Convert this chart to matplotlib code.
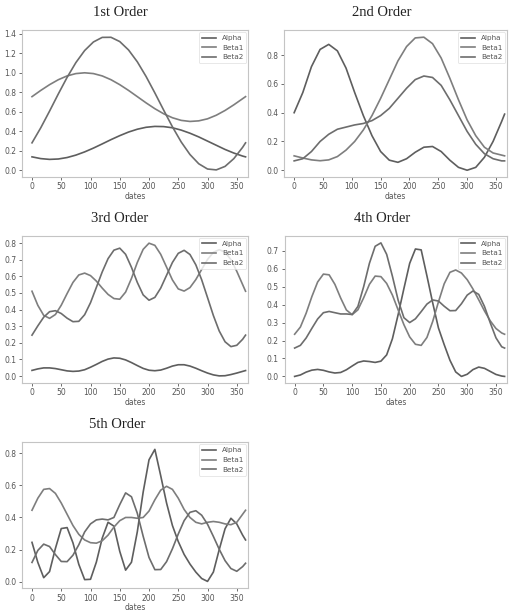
import matplotlib.pyplot as plt

# === Data ===
days15 = [0, 15, 30, 45, 60, 75, 90, 105, 120, 135, 150, 165, 180, 195, 210,
          225, 240, 255, 270, 285, 300, 315, 330, 345, 360, 365]
days10 = list(range(0, 361, 10)) + [365]

# 1st order
o1_alpha = [0.136, 0.118, 0.110, 0.114, 0.129, 0.154, 0.187, 0.226, 0.269, 0.313, 0.354, 0.391, 0.420,
            0.440, 0.449, 0.447, 0.435, 0.411, 0.379, 0.341, 0.298, 0.255, 0.212, 0.175, 0.144, 0.136]
o1_beta1 = [0.755, 0.819, 0.878, 0.929, 0.968, 0.992, 1.000, 0.992, 0.968, 0.929, 0.878, 0.819, 0.755,
            0.691, 0.631, 0.579, 0.538, 0.511, 0.500, 0.506, 0.527, 0.564, 0.613, 0.671, 0.734, 0.755]
o1_beta2 = [0.280, 0.435, 0.606, 0.783, 0.953, 1.105, 1.229, 1.317, 1.364, 1.365, 1.321, 1.235, 1.113,
            0.962, 0.793, 0.617, 0.445, 0.289, 0.160, 0.065, 0.011, 0.002, 0.038, 0.118, 0.234, 0.280]

# 2nd order
o2_alpha = [0.40, 0.54, 0.72, 0.84, 0.875, 0.83, 0.71, 0.54, 0.38, 0.24, 0.13, 0.07, 0.055,
            0.08, 0.125, 0.16, 0.165, 0.13, 0.07, 0.02, 0.0, 0.02, 0.09, 0.20, 0.34, 0.39]
o2_beta1 = [0.10, 0.085, 0.072, 0.066, 0.072, 0.095, 0.14, 0.20, 0.28, 0.38, 0.50, 0.63, 0.76,
            0.86, 0.92, 0.925, 0.88, 0.78, 0.64, 0.49, 0.35, 0.24, 0.16, 0.12, 0.105, 0.10]
o2_beta2 = [0.065, 0.08, 0.13, 0.20, 0.25, 0.285, 0.30, 0.315, 0.325, 0.345, 0.38, 0.43, 0.50,
            0.57, 0.63, 0.655, 0.645, 0.59, 0.49, 0.38, 0.27, 0.18, 0.115, 0.08, 0.065, 0.065]

# 3rd order
o3_alpha = [0.034, 0.043, 0.049, 0.049, 0.045, 0.038, 0.031, 0.028, 0.030, 0.038, 0.053, 0.070, 0.088,
            0.102, 0.109, 0.107, 0.097, 0.081, 0.063, 0.046, 0.035, 0.032, 0.036, 0.047, 0.060, 0.068,
            0.068, 0.060, 0.047, 0.032, 0.018, 0.007, 0.001, 0.002, 0.009, 0.018, 0.028, 0.033]
o3_beta1 = [0.51, 0.425, 0.365, 0.347, 0.370, 0.426, 0.496, 0.563, 0.608, 0.619, 0.604, 0.571, 0.529,
            0.491, 0.466, 0.462, 0.505, 0.587, 0.683, 0.762, 0.799, 0.786, 0.732, 0.655, 0.578, 0.524,
            0.511, 0.532, 0.58, 0.641, 0.701, 0.744, 0.76, 0.745, 0.70, 0.63, 0.55, 0.51]
o3_beta2 = [0.246, 0.302, 0.354, 0.387, 0.393, 0.376, 0.348, 0.327, 0.329, 0.369, 0.441, 0.533, 0.626,
            0.706, 0.757, 0.769, 0.732, 0.654, 0.563, 0.488, 0.456, 0.473, 0.529, 0.606, 0.683, 0.738,
            0.756, 0.731, 0.669, 0.579, 0.472, 0.364, 0.271, 0.206, 0.177, 0.185, 0.221, 0.246]

# 4th order
o4_alpha = [0.0, 0.008, 0.024, 0.035, 0.039, 0.034, 0.025, 0.019, 0.022, 0.037, 0.058, 0.078, 0.086,
            0.083, 0.078, 0.085, 0.12, 0.21, 0.345, 0.49, 0.63, 0.71, 0.705, 0.56, 0.41, 0.27,
            0.177, 0.09, 0.025, 0.0, 0.012, 0.038, 0.052, 0.045, 0.028, 0.011, 0.002, 0.0]
o4_beta1 = [0.235, 0.275, 0.352, 0.445, 0.526, 0.57, 0.566, 0.513, 0.437, 0.37, 0.344, 0.371, 0.438,
            0.513, 0.559, 0.556, 0.518, 0.453, 0.37, 0.288, 0.22, 0.179, 0.173, 0.217, 0.306, 0.415,
            0.516, 0.58, 0.593, 0.576, 0.539, 0.487, 0.427, 0.365, 0.31, 0.267, 0.242, 0.235]
o4_beta2 = [0.158, 0.173, 0.214, 0.268, 0.32, 0.355, 0.362, 0.355, 0.348, 0.348, 0.345, 0.39, 0.50,
            0.63, 0.725, 0.744, 0.68, 0.558, 0.424, 0.327, 0.30, 0.321, 0.361, 0.403, 0.426, 0.42,
            0.391, 0.366, 0.367, 0.405, 0.453, 0.476, 0.457, 0.39, 0.299, 0.215, 0.165, 0.158]

# 5th order
o5_alpha = [0.245, 0.12, 0.025, 0.063, 0.207, 0.331, 0.337, 0.242, 0.108, 0.013, 0.015, 0.122, 0.271,
            0.37, 0.346, 0.189, 0.072, 0.121, 0.311, 0.558, 0.759, 0.824, 0.66, 0.49, 0.35, 0.25,
            0.17, 0.11, 0.06, 0.02, 0.002, 0.06, 0.2, 0.33, 0.395, 0.36, 0.29, 0.26]
o5_beta1 = [0.445, 0.52, 0.575, 0.58, 0.55, 0.49, 0.42, 0.35, 0.295, 0.26, 0.243, 0.24, 0.255,
            0.29, 0.34, 0.38, 0.40, 0.40, 0.395, 0.40, 0.44, 0.51, 0.57, 0.594, 0.575, 0.52,
            0.45, 0.40, 0.37, 0.36, 0.37, 0.375, 0.37, 0.36, 0.355, 0.37, 0.42, 0.445]
o5_beta2 = [0.12, 0.195, 0.234, 0.219, 0.169, 0.126, 0.125, 0.165, 0.23, 0.31, 0.36, 0.385, 0.39,
            0.385, 0.40, 0.48, 0.553, 0.529, 0.426, 0.283, 0.151, 0.075, 0.076, 0.125, 0.205, 0.297,
            0.38, 0.432, 0.442, 0.414, 0.358, 0.282, 0.202, 0.131, 0.082, 0.065, 0.094, 0.115]

titles = ['1st Order', '2nd Order', '3rd Order', '4th Order', '5th Order']
labels = ['Alpha', 'Beta1', 'Beta2']
colors = ['#5e5e5e', '#7e7e7e', '#6d6d6d']
grey = '#555555'

W, H = 517, 613
fig = plt.figure(figsize=(W / 100, H / 100), dpi=100)


def px_rect(left, top, right, bottom):
    return [left / W, 1 - bottom / H, (right - left) / W, (bottom - top) / H]


def draw(rect, days, series, ylim, yticks, title, title_xy):
    ax = fig.add_axes(px_rect(*rect))
    for vals, lab, col in zip(series, labels, colors):
        ax.plot(days, vals, color=col, lw=1.2, label=lab, solid_joinstyle='round')
    ax.set_xlim(-17.6, 369.7)
    ax.set_ylim(*ylim)
    ax.set_xticks([0, 50, 100, 150, 200, 250, 300, 350])
    ax.set_yticks(yticks)
    ax.set_yticklabels([f'{v:.1f}' for v in yticks])
    ax.tick_params(labelsize=5.5, colors=grey, length=2.5, width=0.6, pad=1.5)
    for sp in ax.spines.values():
        sp.set_color('#c4c4c4')
        sp.set_linewidth(0.8)
    ax.set_xlabel('dates', fontsize=5.5, color=grey, labelpad=0.3)
    leg = ax.legend(loc='upper right', fontsize=5.2, borderaxespad=0.3,
                    labelcolor=grey, handlelength=2.0)
    leg.get_frame().set_edgecolor('#dddddd')
    leg.get_frame().set_linewidth(0.6)
    fig.text(title_xy[0] / W, 1 - title_xy[1] / H, title, ha='center', va='center',
             fontsize=10.5, family='Liberation Serif', color='#222222')
    return ax


draw((21.7, 30, 248.3, 176.7), days15, [o1_alpha, o1_beta1, o1_beta2],
     (-0.068, 1.44), [0.0, 0.2, 0.4, 0.6, 0.8, 1.0, 1.2, 1.4], titles[0], (120, 12))
draw((284, 30, 507.3, 176.7), days15, [o2_alpha, o2_beta1, o2_beta2],
     (-0.045, 0.975), [0.0, 0.2, 0.4, 0.6, 0.8], titles[1], (382, 12))
draw((21.7, 235.7, 248.3, 382.7), days10, [o3_alpha, o3_beta1, o3_beta2],
     (-0.04, 0.844), [0.0, 0.1, 0.2, 0.3, 0.4, 0.5, 0.6, 0.7, 0.8], titles[2], (119.5, 218))
draw((284.5, 235.7, 507.3, 382.7), days10, [o4_alpha, o4_beta1, o4_beta2],
     (-0.035, 0.784), [0.0, 0.1, 0.2, 0.3, 0.4, 0.5, 0.6, 0.7], titles[3], (382, 218))
draw((21.7, 442.3, 248.3, 588.3), days10, [o5_alpha, o5_beta1, o5_beta2],
     (-0.041, 0.868), [0.0, 0.2, 0.4, 0.6, 0.8], titles[4], (117, 424))

fig.savefig('out.png', dpi=100, facecolor='white')
